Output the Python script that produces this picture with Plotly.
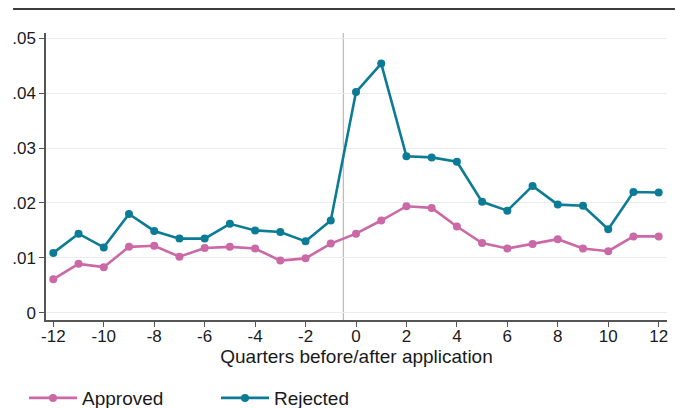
import plotly.graph_objects as go

quarters = list(range(-12, 13))
approved = [0.0061, 0.0089, 0.0083, 0.0120, 0.0122, 0.0102, 0.0118, 0.0120, 0.0117, 0.0095, 0.0099,
            0.0126, 0.0144, 0.0168, 0.0194, 0.0191, 0.0157, 0.0127, 0.0117, 0.0125, 0.0134, 0.0117,
            0.0112, 0.0139, 0.0139]
rejected = [0.0109, 0.0144, 0.0119, 0.0180, 0.0149, 0.0135, 0.0135, 0.0162, 0.0150, 0.0147, 0.0130,
            0.0168, 0.0402, 0.0454, 0.0285, 0.0283, 0.0275, 0.0202, 0.0186, 0.0231, 0.0197, 0.0195,
            0.0152, 0.0220, 0.0219]
y_tickvals = [0, 0.01, 0.02, 0.03, 0.04, 0.05]
y_ticktext = ["0", ".01", ".02", ".03", ".04", ".05"]
x_tickvals = list(range(-12, 13, 2))
x_ticktext = ["-12", "-10", "-8", "-6", "-4", "-2", "0", "2", "4", "6", "8", "10", "12"]
x_title = "Quarters before/after application"
series_names = ["Approved", "Rejected"]
colors = ["#CB68A6", "#0C7B95"]
event_line = -0.5

FONT = "Liberation Sans, Arial, sans-serif"

fig = go.Figure()
for name, vals, col in zip(series_names, [approved, rejected], colors):
    fig.add_trace(go.Scatter(
        x=quarters, y=vals, name=name, mode="lines+markers",
        line=dict(color=col, width=2.6),
        marker=dict(color=col, size=8),
    ))

fig.add_shape(type="line", xref="x", yref="paper", x0=event_line, x1=event_line, y0=0, y1=1,
              line=dict(color="#bdbdbd", width=1.3), layer="below")
# header rule
fig.add_shape(type="line", xref="paper", yref="paper", x0=-0.0531, x1=1.021, y0=1.0836, y1=1.0836,
              line=dict(color="#3c3c3c", width=2))

fig.update_layout(
    width=675, height=400,
    margin=dict(l=38, r=16, t=25, b=88, autoexpand=False),
    paper_bgcolor="white", plot_bgcolor="white",
    font=dict(family=FONT, color="#1a1a1a", size=16),
    showlegend=True,
    legend=dict(orientation="h", x=-0.0354, xanchor="left", y=-0.272, yanchor="middle",
                font=dict(size=19), entrywidth=129, itemwidth=48, traceorder="normal"),
    xaxis=dict(range=[-12.29, 12.33], tickvals=x_tickvals, ticktext=x_ticktext,
               ticks="outside", ticklen=5, ticklabelstandoff=-5,
               tickcolor="#555", tickwidth=1.3, showline=True, linecolor="#555", linewidth=1.5,
               showgrid=False, zeroline=False, tickfont=dict(size=17),
               title=dict(text=x_title, font=dict(size=19), standoff=4)),
    yaxis=dict(range=[-0.00133, 0.05097], tickvals=y_tickvals, ticktext=y_ticktext,
               ticks="outside", ticklen=5, tickcolor="#555", tickwidth=1.3,
               showline=True, linecolor="#555", linewidth=1.5,
               showgrid=True, gridcolor="#ececec", gridwidth=1, zeroline=False,
               tickfont=dict(size=17)),
)

fig.write_html("out.html")
